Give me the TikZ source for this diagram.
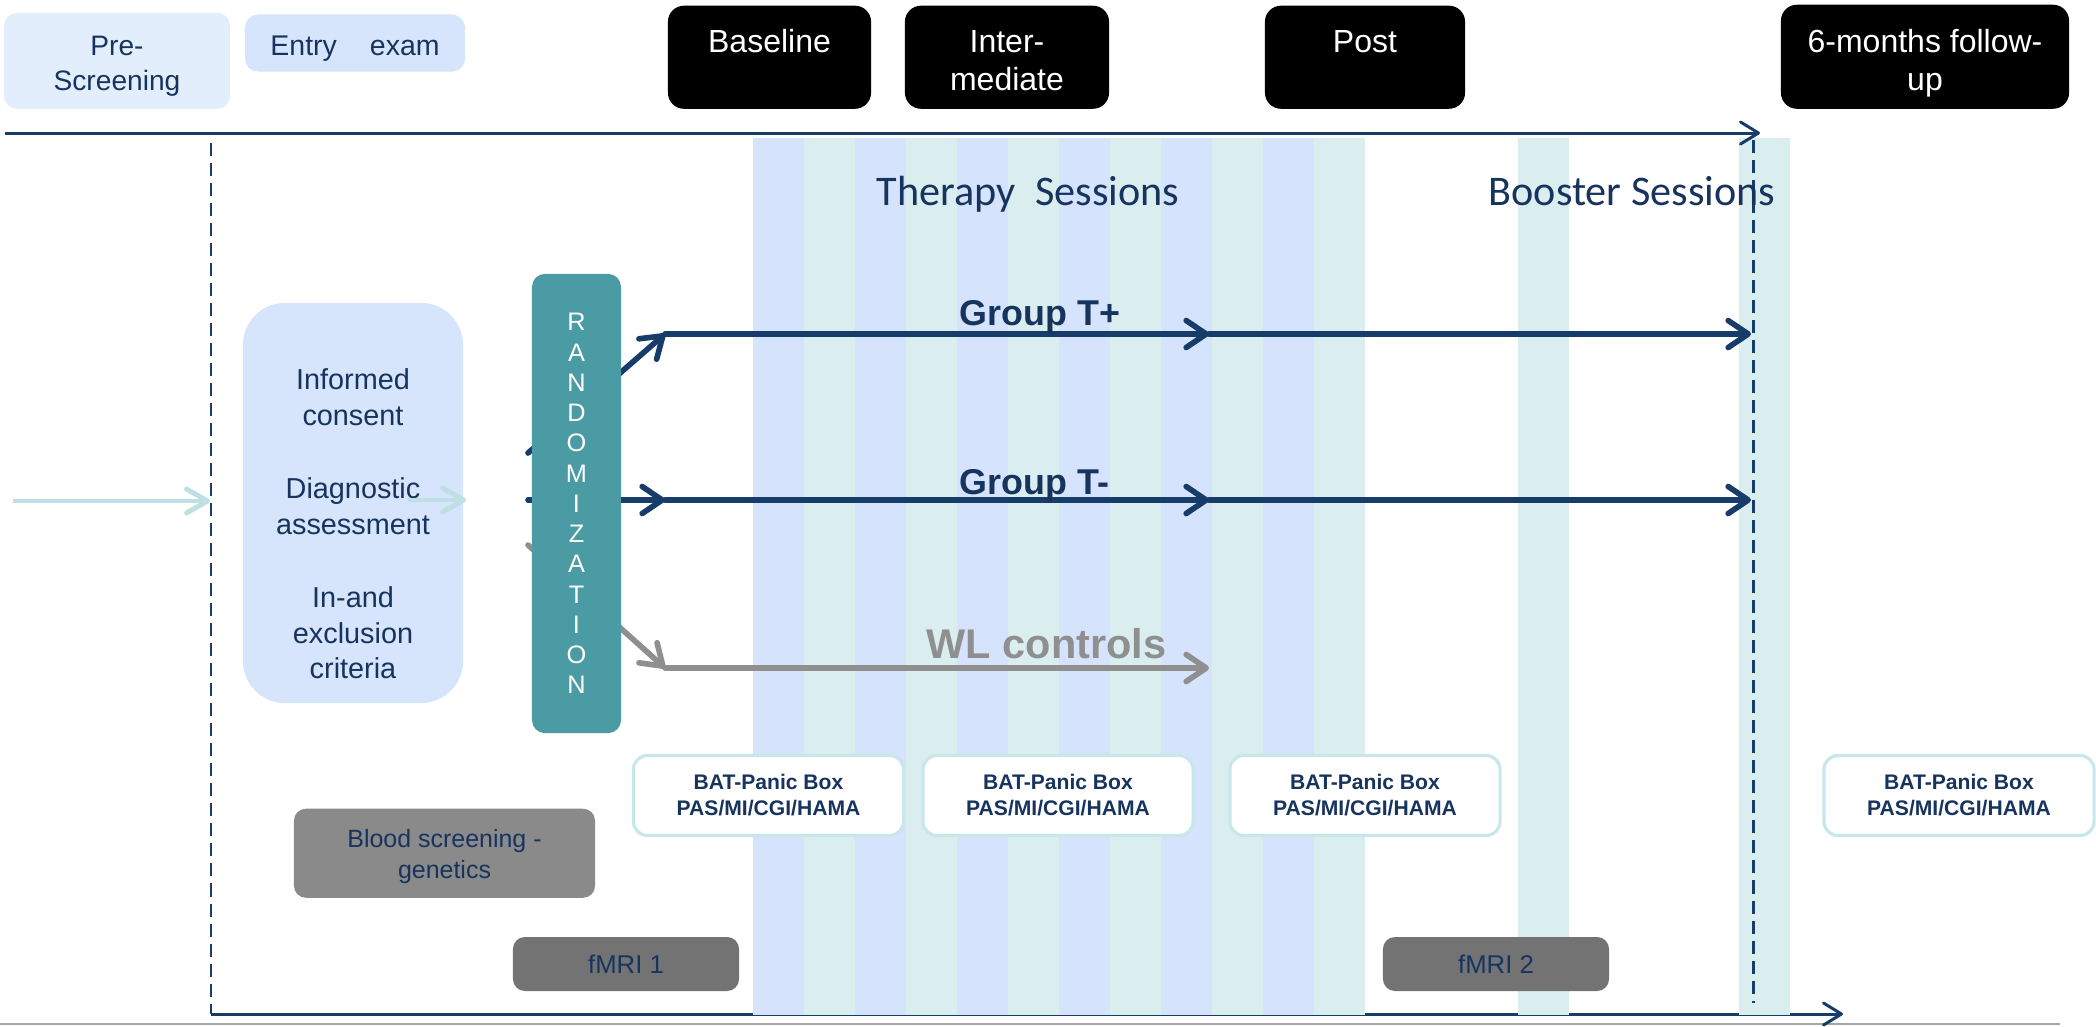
\documentclass[tikz,border=0pt]{standalone}
\usepackage{fontspec}
\setmainfont{Liberation Sans}
\newfontfamily\calibrifont{Carlito}
\usetikzlibrary{arrows.meta}
\definecolor{navytext}{HTML}{17345F}
\definecolor{navyline}{HTML}{173C69}
\definecolor{prefill}{HTML}{E2EEFC}
\definecolor{bluefill}{HTML}{D6E4FC}
\definecolor{stripeblue}{HTML}{D5E3FC}
\definecolor{stripeteal}{HTML}{DAEEF0}
\definecolor{randfill}{HTML}{4A9BA3}
\definecolor{lightteal}{HTML}{BEE0E2}
\definecolor{wlgray}{HTML}{8F8F8F}
\definecolor{bloodgray}{HTML}{8A8A8A}
\definecolor{mrigray}{HTML}{737373}
\definecolor{batborder}{HTML}{C8E7E9}
\definecolor{basegray}{HTML}{A6A6A6}
\tikzset{
  lightbox/.style={rounded corners=0.13cm, inner sep=0pt, text=navytext, align=center},
  blackbox/.style={fill=black, rounded corners=0.16cm, inner sep=0pt, text=white, anchor=north,
    font=\fontsize{9.1}{10.6}\selectfont},
  batbox/.style={fill=white, draw=batborder, line width=0.9pt, rounded corners=0.14cm,
    minimum width=2.70cm, minimum height=0.80cm, inner sep=0pt, align=center, text=navytext,
    font=\bfseries\fontsize{6}{7.4}\selectfont},
  graybox/.style={rounded corners=0.12cm, inner sep=0pt, align=center, text=navytext},
  axisline/.style={draw=navyline, line width=0.85pt, -{Straight Barb[length=1.8mm,width=2.2mm,round]}},
  dashline/.style={draw=navyline, line width=0.85pt, dash pattern=on 0.13cm off 0.07cm},
  grouparrow/.style={draw=navyline, line width=1.6pt, line cap=round,
    -{Straight Barb[length=2mm,width=2.7mm,round]}},
  wlarrow/.style={draw=wlgray, line width=1.6pt, line cap=round,
    -{Straight Barb[length=2mm,width=2.7mm,round]}},
  tealarrow/.style={draw=lightteal, line width=1.4pt,
    -{Straight Barb[length=2.1mm,width=2.4mm,round]}},
  grouplabel/.style={text=navytext, font=\bfseries\fontsize{10.2}{12}\selectfont, inner sep=0pt},
  sessionlabel/.style={text=navytext, font=\calibrifont\fontsize{12}{14}\selectfont, inner sep=0pt, anchor=base},
}
\begin{document}
\begin{tikzpicture}[x=0.01cm, y=-0.01cm]
\useasboundingbox (0,0) rectangle (2096,1026);
% coordinates
\coordinate (botstart) at (211,1014);
\coordinate (bottip) at (1843,1014);
\coordinate (topstart) at (5,133);
\coordinate (toptip) at (1760,133);
\coordinate (ldashtop) at (211,143);
\coordinate (rdashtop) at (1753,140);
\coordinate (rdashbot) at (1753,1003);
\coordinate (graya) at (0,1024);
\coordinate (grayb) at (2060,1024);
% base lines
\draw[basegray, line width=0.7pt] (graya) -- (grayb);
\draw[axisline] (botstart) -- (bottip);
% stripes
\foreach \xa in {753,855,957,1059,1161,1263}
  \fill[stripeblue] (\xa,138) rectangle ++(51,877);
\foreach \xa in {804,906,1008,1110,1212,1314}
  \fill[stripeteal] (\xa,138) rectangle ++(51,877);
\fill[stripeteal] (1518,138) rectangle (1569,1015);
\fill[stripeteal] (1739,138) rectangle (1790,1015);
% axes
\draw[axisline] (topstart) -- (toptip);
\draw[dashline] (ldashtop) -- (botstart);
\draw[dashline] (rdashtop) -- (rdashbot);
% top boxes
\node[lightbox, fill=prefill, anchor=north, font=\fontsize{8}{10}\selectfont] (pre) at (117,12)
  {\parbox[t][0.96cm][t]{2.26cm}{\centering\rule{0pt}{0.43cm}Pre-\\Screening}};
\node[lightbox, fill=bluefill, minimum width=2.20cm, minimum height=0.57cm,
  text height=0.24cm, text depth=0pt,
  font=\fontsize{8.1}{10}\selectfont] (entry) at (355,43) {Entry\hspace{0.33cm}exam};
\node[blackbox] (base) at (769.5,5) {\parbox[t][1.03cm][t]{2.03cm}{\centering\rule{0pt}{0.47cm}Baseline}};
\node[blackbox] (inter) at (1007,5) {\parbox[t][1.03cm][t]{2.04cm}{\centering\rule{0pt}{0.47cm}Inter-\\mediate}};
\node[blackbox] (post) at (1365,5) {\parbox[t][1.03cm][t]{2.0cm}{\centering\rule{0pt}{0.47cm}Post}};
\node[blackbox] (follow) at (1925,4) {\parbox[t][1.04cm][t]{2.88cm}{\centering\rule{0pt}{0.48cm}6-months follow-\\up}};
% session labels
\node[sessionlabel] (ther) at (1028,205) {Therapy\hspace{0.2cm}Sessions};
\node[sessionlabel] (boost) at (1632,205) {Booster Sessions};
% group arrows coordinates
\coordinate (tpS) at (528,453);
\coordinate (tpA) at (665,334);
\coordinate (tpB) at (1209,334);
\coordinate (tpC) at (1751,334);
\coordinate (tmS) at (528,500);
\coordinate (tmA) at (665,500);
\coordinate (tmB) at (1209,500);
\coordinate (tmC) at (1751,500);
\coordinate (wlS) at (528,545);
\coordinate (wlA) at (665,668);
\coordinate (wlB) at (1209,668);
\draw[grouparrow] (tpS) -- (tpA);
\draw[grouparrow] (tmS) -- (tmA);
\draw[wlarrow] (wlS) -- (wlA);
\draw[grouparrow] (tpA) -- (tpB);
\draw[grouparrow] (tpB) -- (tpC);
\draw[grouparrow] (tmA) -- (tmB);
\draw[grouparrow] (tmB) -- (tmC);
\draw[wlarrow] (wlA) -- (wlB);
\node[grouplabel, anchor=base west] (gtp) at (959,325) {Group T+};
\node[grouplabel, anchor=base west] (gtm) at (959,494) {Group T-};
\node[text=wlgray, font=\bfseries\fontsize{11.8}{14}\selectfont, inner sep=0pt, anchor=base west] (wl) at (926,658) {WL controls};
% randomization
\node[fill=randfill, rounded corners=0.13cm, inner sep=0pt, text=white,
  font=\fontsize{7.2}{8.6}\selectfont] (rand) at (576.5,503.5)
  {\parbox[c][4.59cm][t]{0.89cm}{\centering\rule{0pt}{0.57cm}R\\A\\N\\D\\O\\M\\I\\Z\\A\\T\\I\\O\\N}};
% screening box
\node[fill=bluefill, rounded corners=0.42cm, inner sep=0pt, text=navytext] (screen) at (353,503)
  {\parbox[c][4.00cm][t]{2.2cm}{\centering\fontsize{8.2}{10}\selectfont\rule{0pt}{0.87cm}Informed\\consent\\[11pt]Diagnostic\\assessment\\[11pt]In-and\\exclusion\\criteria}};
% teal arrows
\coordinate (inS) at (13,501);
\coordinate (inT) at (210,501);
\coordinate (in2S) at (408,500);
\coordinate (in2T) at (466,500);
\draw[tealarrow] (inS) -- (inT);
\draw[tealarrow] (in2S) -- (in2T);
% assessment boxes
\node[batbox] (bat1) at (768.5,795.5) {BAT-Panic Box\\PAS/MI/CGI/HAMA};
\node[batbox] (bat2) at (1058,795.5) {BAT-Panic Box\\PAS/MI/CGI/HAMA};
\node[batbox] (bat3) at (1365,795.5) {BAT-Panic Box\\PAS/MI/CGI/HAMA};
\node[batbox] (bat4) at (1959,795.5) {BAT-Panic Box\\PAS/MI/CGI/HAMA};
% gray boxes
\node[graybox, fill=bloodgray, anchor=north, font=\fontsize{7.1}{8.8}\selectfont] (blood) at (444.5,808)
  {\parbox[t][0.89cm][t]{3.01cm}{\centering\rule{0pt}{0.39cm}Blood screening -\\genetics}};
\node[graybox, fill=mrigray, minimum width=2.26cm, minimum height=0.54cm,
  font=\fontsize{7.3}{9}\selectfont] (mri1) at (626,964) {fMRI 1};
\node[graybox, fill=mrigray, minimum width=2.26cm, minimum height=0.54cm,
  font=\fontsize{7.3}{9}\selectfont] (mri2) at (1496,964) {fMRI 2};
\end{tikzpicture}
\end{document}
